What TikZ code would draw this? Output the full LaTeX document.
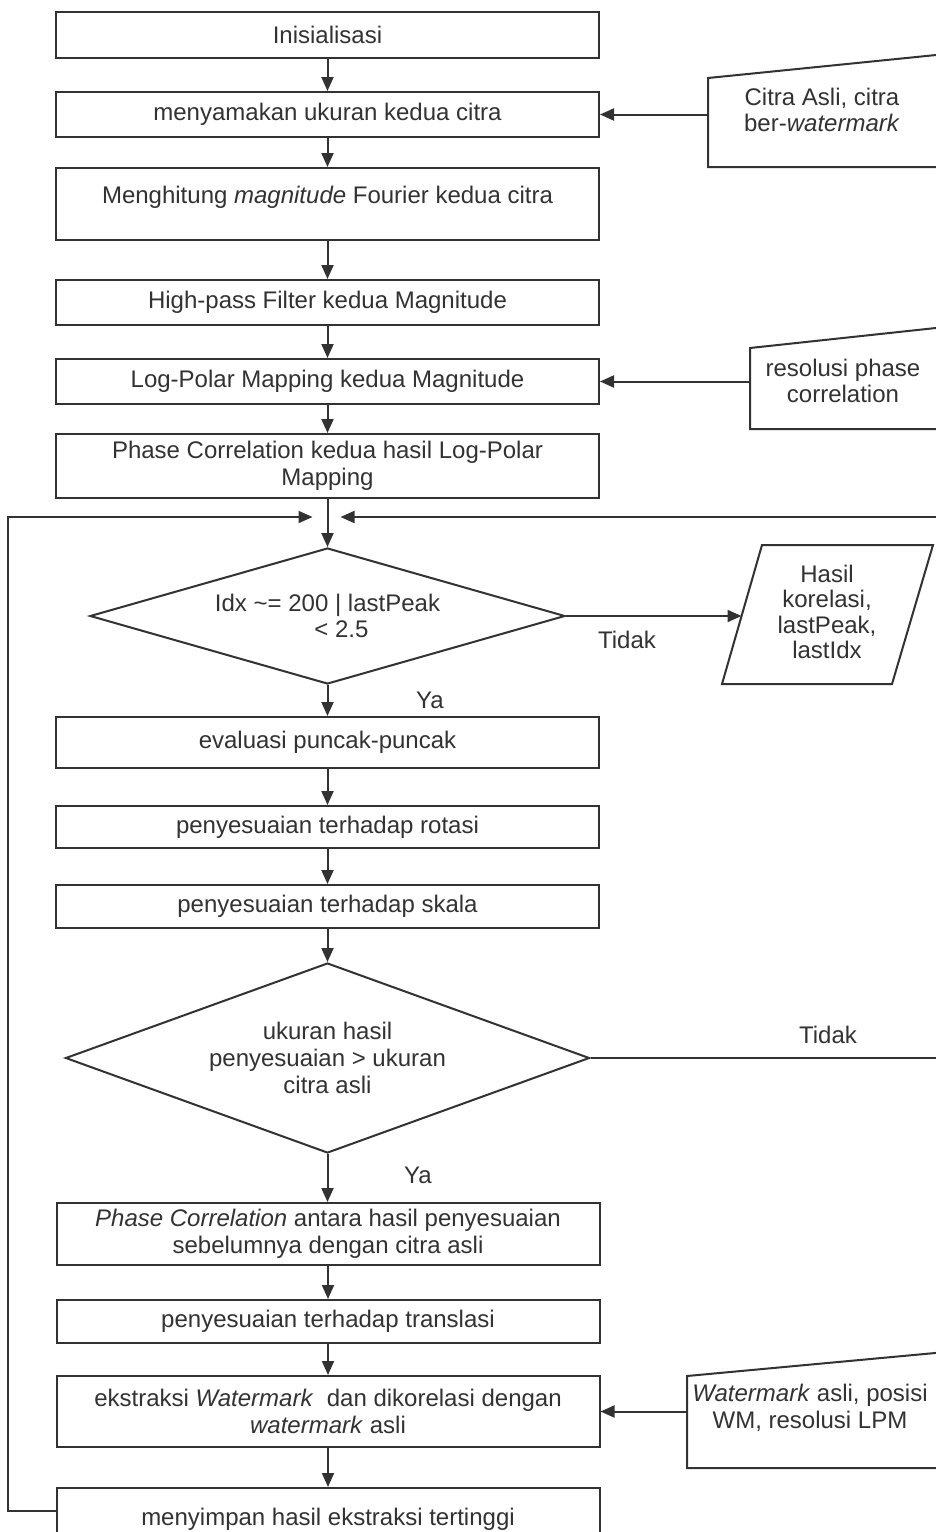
\documentclass[tikz,border=0pt]{standalone}
\usepackage{fontspec}
\setmainfont{Liberation Sans}
\usetikzlibrary{arrows.meta,shapes.geometric,calc}
\definecolor{ink}{RGB}{50,50,50}
\begin{document}
\begin{tikzpicture}[x=0.5pt,y=-0.5pt,
  font=\fontsize{12}{13.4}\selectfont,
  every node/.style={text=ink},
  box/.style={draw=ink, line width=1pt, rectangle, inner sep=0pt, align=center, minimum width=271.5pt},
  dec/.style={draw=ink, line width=1pt, diamond, inner sep=0pt, align=center},
  arr/.style={draw=ink, line width=1pt, -{Triangle[length=7pt,width=6pt]}},
  ln/.style={draw=ink, line width=1pt, line join=miter},
  lbl/.style={inner sep=0pt, align=center},
]
\useasboundingbox (0,0) rectangle (936,1532);
\fill[white] (0,0) rectangle (936,1532);
\clip (0,0) rectangle (936,1532);

% main column
\node[box, minimum height=23pt] (b1) at (327.5,35) {Inisialisasi};
\node[box, minimum height=22.5pt] (b2) at (327.5,114.5) {menyamakan ukuran kedua citra};
\node[box, minimum height=36pt] (b3) at (327.5,204) {\raisebox{3.5pt}[\height][\depth]{Menghitung \textit{magnitude} Fourier kedua citra}};
\node[box, minimum height=22.5pt] (b4) at (327.5,302.5) {High-pass Filter kedua Magnitude};
\node[box, minimum height=22.5pt] (b5) at (327.5,381.5) {Log-Polar Mapping kedua Magnitude};
\node[box, minimum height=32pt] (b6) at (327.5,466) {Phase Correlation kedua hasil Log-Polar\\Mapping};
\coordinate (j) at (327.5,517);
\node[dec, aspect=3.5, minimum width=237.5pt, minimum height=68pt] (d1) at (327.5,616) {Idx \textasciitilde= 200 | lastPeak\\\hspace*{14pt}< 2.5};
\node[box, minimum height=25.5pt] (b7) at (327.5,742.5) {evaluasi puncak-puncak};
\node[box, minimum height=21pt] (b8) at (327.5,827) {penyesuaian terhadap rotasi};
\node[box, minimum height=21.5pt] (b9) at (327.5,906.5) {penyesuaian terhadap skala};
\node[dec, aspect=2.76, minimum width=262pt, minimum height=95pt] (d2) at (327.5,1058) {ukuran hasil\\penyesuaian > ukuran\\citra asli};
\node[box, minimum height=31pt] (b10) at (328,1234) {\textit{Phase Correlation} antara hasil penyesuaian\\sebelumnya dengan citra asli};
\node[box, minimum height=21.5pt] (b11) at (328,1321.5) {penyesuaian terhadap translasi};
\node[box, minimum height=35.5pt] (b12) at (328,1411.5) {ekstraksi \textit{Watermark}\ \ dan dikorelasi dengan\\\textit{watermark} asli};
\node[box, minimum height=31pt] (b13) at (328,1519) {menyimpan hasil ekstraksi tertinggi};

% side inputs / outputs
\draw[ln] (708,78) -- (960,52.6) -- (960,167) -- (708,167) -- cycle;
\node[lbl] (ina) at (822,110) {Citra Asli, citra\\ber-\textit{watermark}};
\coordinate (ina-w) at (708,114.5);

\draw[ln] (750,348) -- (960,325.4) -- (960,429) -- (750,429) -- cycle;
\node[lbl] (inb) at (843,381) {resolusi phase\\correlation};
\coordinate (inb-w) at (750,381.5);

\draw[ln] (687,1376) -- (960,1350.7) -- (960,1468) -- (687,1468) -- cycle;
\node[lbl] (inc) at (810,1408) {\textit{Watermark} asli, posisi\\WM, resolusi LPM};
\coordinate (inc-w) at (687,1411.5);

\draw[ln] (762,545) -- (933,545) -- (892,684) -- (722,684) -- cycle;
\node[lbl, font=\fontsize{12}{12.8}\selectfont] (hasil) at (827,612) {Hasil\\korelasi,\\lastPeak,\\lastIdx};
\coordinate (hasil-w) at (741.5,616);

% connectors
\draw[arr] (b1) -- (b2);
\draw[arr] (b2) -- (b3);
\draw[arr] (b3) -- (b4);
\draw[arr] (b4) -- (b5);
\draw[arr] (b5) -- (b6);
\draw[arr] (b6) -- (d1);
\draw[arr] (d1) -- (b7);
\draw[arr] (b7) -- (b8);
\draw[arr] (b8) -- (b9);
\draw[arr] (b9) -- (d2);
\draw[arr] (d2) -- (b10.north -| d2.south);
\draw[arr] (b10) -- (b11);
\draw[arr] (b11) -- (b12);
\draw[arr] (b12) -- (b13);

\draw[arr] (ina-w) -- (b2.east);
\draw[arr] (inb-w) -- (b5.east);
\draw[arr] (inc-w) -- (b12.east);
\draw[arr] (d1.east) -- (hasil-w);

\draw[arr] (b13.west |- 0,1511) -| (8,517) -- ($(j)+(-15,0)$);
\draw[arr] (d2.east) -- (950,1058) |- ($(j)+(13,0)$);

% labels
\node[lbl] (t1) at (627,640) {Tidak};
\node[lbl] (y1) at (430,700) {Ya};
\node[lbl] (t2) at (828,1035) {Tidak};
\node[lbl] (y2) at (418,1175) {Ya};
\end{tikzpicture}
\end{document}
